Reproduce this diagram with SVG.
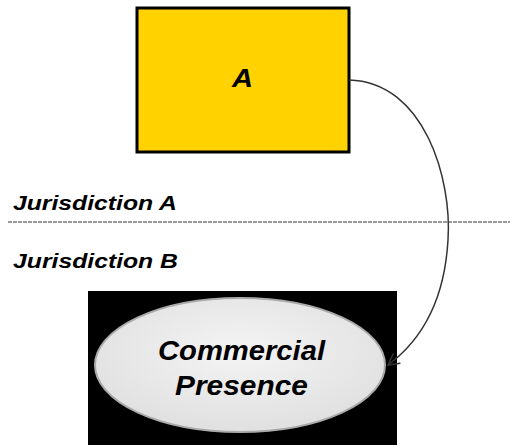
<svg xmlns="http://www.w3.org/2000/svg" width="510" height="445" viewBox="0 0 510 445">
<style>
.lbl{font-family:"Liberation Sans",Arial,sans-serif;font-weight:bold;font-style:italic;fill:#000}
</style>
<defs>
<radialGradient id="eg" cx="50%" cy="40%" r="60%">
<stop offset="0" stop-color="#f4f4f4"/>
<stop offset="1" stop-color="#e0e0e0"/>
</radialGradient>
<marker id="arr" markerWidth="14" markerHeight="14" refX="12" refY="7" orient="auto" markerUnits="userSpaceOnUse">
<path d="M1,1 L12,7 L1,13" fill="none" stroke="#333" stroke-width="1.5"/>
</marker>
</defs>
<rect width="510" height="445" fill="#fff"/>
<g id="divider">
<line x1="8" y1="222" x2="510" y2="222" stroke="#999" stroke-width="2" stroke-dasharray="4,1"/>
<text class="lbl" x="13" y="210" font-size="21" textLength="164" lengthAdjust="spacingAndGlyphs">Jurisdiction A</text>
<text class="lbl" x="13" y="268" font-size="21" textLength="165" lengthAdjust="spacingAndGlyphs">Jurisdiction B</text>
</g>
<g id="nodeA">
<rect x="137" y="8" width="212" height="144" fill="#FFD200" stroke="#000" stroke-width="3"/>
<text class="lbl" x="232" y="87" font-size="25" textLength="21" lengthAdjust="spacingAndGlyphs">A</text>
</g>
<g id="nodeCP">
<rect x="88" y="291" width="309" height="154" fill="#000"/>
<ellipse cx="240" cy="365" rx="145" ry="67" fill="url(#eg)" stroke="#aaa" stroke-width="2"/>
<text class="lbl" x="158" y="360" font-size="28" textLength="167" lengthAdjust="spacingAndGlyphs">Commercial</text>
<text class="lbl" x="175" y="395" font-size="28" textLength="133" lengthAdjust="spacingAndGlyphs">Presence</text>
</g>
<g id="connectors">
<path d="M349,80 C425,82 452,180 448,240 C444,310 415,345 388,365" fill="none" stroke="#333" stroke-width="1.5" marker-end="url(#arr)"/>
</g>
</svg>
